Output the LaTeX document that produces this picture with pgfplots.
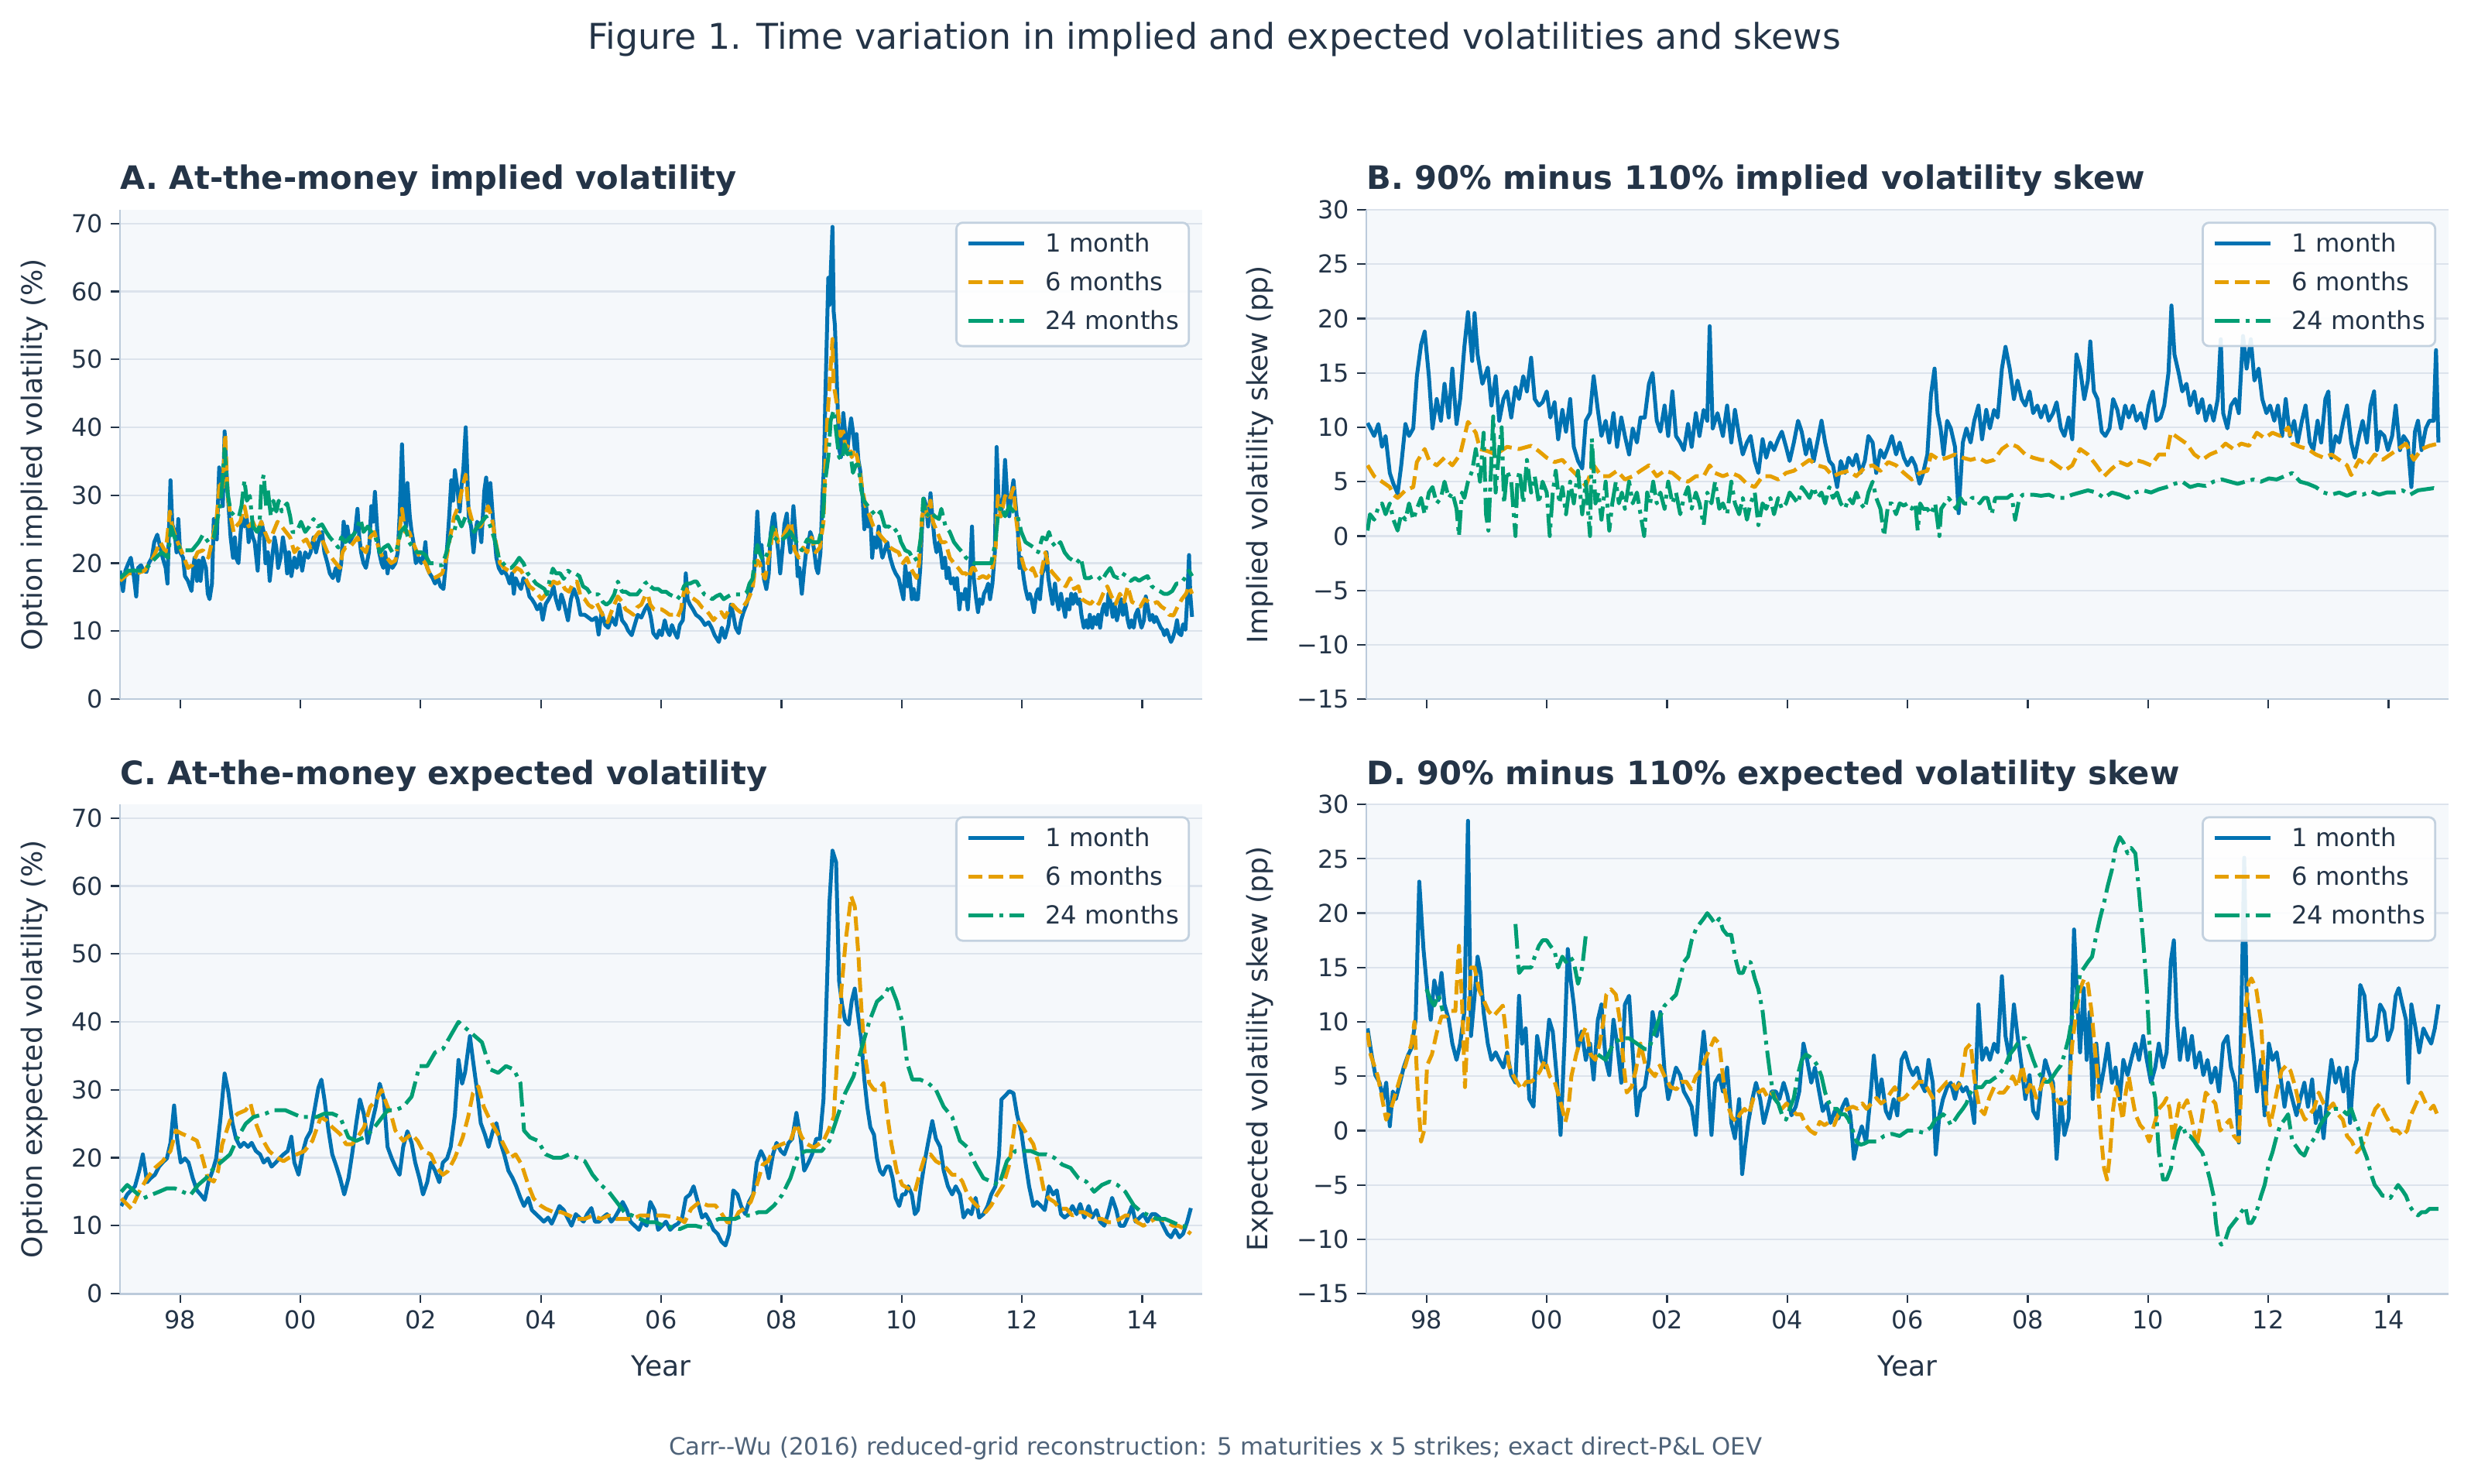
\documentclass[border=0pt]{standalone}
\usepackage{fontspec}
\setmainfont{DejaVu Sans}
\usepackage{pgfplots}
\pgfplotsset{compat=1.18}
\definecolor{c1}{HTML}{0072B2}
\definecolor{c2}{HTML}{E69F00}
\definecolor{c3}{HTML}{009E73}
\definecolor{txt}{HTML}{243447}
\definecolor{axbg}{HTML}{F5F8FB}
\definecolor{gridc}{HTML}{DCE3EC}
\definecolor{spine}{HTML}{BCCBDB}
\definecolor{legc}{HTML}{C3D1DF}
\definecolor{foot}{HTML}{4F6379}
\pgfplotsset{
  s1/.style={c1, line width=1.8pt, solid, line join=round},
  s2/.style={c2, line width=1.8pt, dash pattern=on 6.66pt off 2.88pt, line join=round},
  s3/.style={c3, line width=1.8pt, dash pattern=on 11.5pt off 2.88pt on 1.8pt off 2.88pt, line join=round},
  panel/.style={
    width=503.3pt, height=227.5pt, scale only axis,
    xmin=1997, xmax=2015,
    xtick={1998,2000,2002,2004,2006,2008,2010,2012,2014},
    axis background/.style={fill=axbg},
    axis x line*=bottom, axis y line*=left,
    axis line style={-, draw=spine, line width=1pt},
    tick align=outside, major tick length=4.3pt,
    tick style={draw=txt, line width=0.8pt},
    ymajorgrids, grid style={draw=gridc, line width=0.8pt},
    xticklabel style={font=\fontsize{11.5}{13}\selectfont, text=txt},
    yticklabel style={font=\fontsize{11.5}{13}\selectfont, text=txt},
    every axis title/.style={at={(axis description cs:0,1)}, anchor=base west, inner sep=0pt, yshift=9.4pt, font=\fontsize{15}{18}\selectfont\bfseries, text=txt},
    every axis x label/.style={at={(axis description cs:0.5,0)}, anchor=base, yshift=-38.2pt, font=\fontsize{13}{15}\selectfont, text=txt},
    unbounded coords=jump,
    legend image code/.code={\draw[##1] (0pt,1.2pt) -- (26pt,1.2pt);},
    legend cell align=left,
    legend style={at={(axis description cs:0.9886,0.976)}, anchor=north east,
      draw=legc, line width=1pt, rounded corners=3pt, fill=white, fill opacity=0.9, text opacity=1,
      inner xsep=4.6pt, inner ysep=5.2pt, row sep=7pt,
      font=\fontsize{11.6}{13}\selectfont, text=txt,
      nodes={inner sep=0pt, text height=8.5pt, text depth=2.5pt},
      /tikz/every odd column/.append style={column sep=9pt}},
  },
  ylab/.style={every axis y label/.style={at={(axis description cs:#1,0.5)}, rotate=90, anchor=center, font=\fontsize{13}{15}\selectfont, text=txt}},
  volax/.style={ymin=0, ymax=72, ytick={0,10,20,30,40,50,60,70}, yticklabels={0,10,20,30,40,50,60,70}},
  skewax/.style={ymin=-15, ymax=30, ytick={-15,-10,-5,0,5,10,15,20,25,30},
     yticklabels={−15,−10,−5,0,5,10,15,20,25,30}},
}
\begin{document}
\begin{tikzpicture}
\useasboundingbox (0,0) rectangle (1149.1pt,690.1pt);
\node[anchor=base, font=\fontsize{16.5}{19}\selectfont, text=txt] at (564.8pt,667.4pt) {Figure 1. Time variation in implied and expected volatilities and skews};
\node[anchor=base, font=\fontsize{11.1}{13}\selectfont, text=foot] at (565.3pt,13.5pt) {Carr-{}-Wu (2016) reduced-grid reconstruction: 5 maturities x 5 strikes; exact direct-P\&L OEV};

% ---------------- Panel A ----------------
\begin{axis}[panel, volax, ylab=-0.0787, at={(55.8pt,365pt)}, anchor=south west,
  xticklabels={,,,,,,,,},
  title={A. At-the-money implied volatility},
  ylabel={Option implied volatility (\%)}]
\addplot[s1] coordinates {(1997.00,18.9) (1997.05,15.9) (1997.09,18.9) (1997.14,20) (1997.18,20.8) (1997.23,18.1) (1997.27,15.1) (1997.30,19.3) (1997.35,19.7) (1997.39,18.9) (1997.44,18.7) (1997.48,20) (1997.53,20.8) (1997.57,23.1) (1997.62,24.2) (1997.67,22.3) (1997.71,20.8) (1997.76,19.3) (1997.79,17) (1997.82,26.5) (1997.84,32.2) (1997.87,25.7) (1997.91,24.6) (1997.94,21.6) (1997.97,26.5) (1998.00,21.6) (1998.05,20.8) (1998.08,18.1) (1998.13,17.4) (1998.19,15.9) (1998.22,19.3) (1998.24,20.8) (1998.28,17.4) (1998.31,20.4) (1998.34,17.4) (1998.38,20.8) (1998.43,19.3) (1998.46,15.5) (1998.49,14.7) (1998.53,17) (1998.56,26.5) (1998.61,23.5) (1998.65,34.1) (1998.68,31.8) (1998.71,28.4) (1998.74,39.4) (1998.77,33.7) (1998.80,29.2) (1998.84,23.8) (1998.88,20.8) (1998.91,23.8) (1998.93,20.8) (1998.97,20) (1999.00,23.8) (1999.03,26.9) (1999.07,25.4) (1999.11,26.5) (1999.14,23.1) (1999.17,25.4) (1999.21,23.8) (1999.24,23.1) (1999.29,18.9) (1999.32,23.8) (1999.35,26.1) (1999.39,24.6) (1999.42,20) (1999.46,21.6) (1999.49,17.4) (1999.53,20.8) (1999.57,23.8) (1999.60,22.3) (1999.63,19.3) (1999.67,20.8) (1999.71,23.8) (1999.75,21.6) (1999.78,18.5) (1999.81,21.6) (1999.85,18.1) (1999.90,20.8) (1999.94,19.3) (1999.99,21.6) (2000.03,18.9) (2000.08,21.6) (2000.13,20.8) (2000.17,21.6) (2000.22,23.8) (2000.26,21.6) (2000.31,23.5) (2000.36,24.6) (2000.40,21.6) (2000.45,20) (2000.49,18.5) (2000.54,17.8) (2000.59,19.3) (2000.63,17.4) (2000.68,20) (2000.72,26.1) (2000.75,23.8) (2000.78,25.4) (2000.82,23.1) (2000.86,23.8) (2000.91,24.6) (2000.95,28) (2000.98,23.8) (2001.01,21.6) (2001.05,20) (2001.09,19.3) (2001.14,21.6) (2001.18,28.4) (2001.21,26.1) (2001.24,30.5) (2001.28,24.6) (2001.31,21.6) (2001.35,20) (2001.38,19.3) (2001.41,21.6) (2001.45,18.5) (2001.48,20.4) (2001.53,19.3) (2001.58,20) (2001.62,21.6) (2001.65,26.9) (2001.69,37.5) (2001.73,26.9) (2001.76,25.4) (2001.78,31.8) (2001.82,26.9) (2001.85,24.6) (2001.88,23.1) (2001.92,20) (2001.97,20.8) (2002.01,20) (2002.06,21.6) (2002.08,23.1) (2002.11,19.3) (2002.15,18.5) (2002.20,17.8) (2002.24,17) (2002.29,17.8) (2002.33,16.6) (2002.38,16.2) (2002.42,20) (2002.45,23.5) (2002.48,27.6) (2002.51,32.2) (2002.54,29.2) (2002.57,33.7) (2002.61,31.1) (2002.65,27.6) (2002.68,31.4) (2002.71,33.7) (2002.75,40) (2002.78,32.2) (2002.80,26.9) (2002.84,25.4) (2002.88,21.6) (2002.91,24.6) (2002.94,26.1) (2002.98,25.4) (2003.01,23.1) (2003.06,30.7) (2003.09,32.6) (2003.12,28.4) (2003.16,31.8) (2003.20,26.9) (2003.23,23.8) (2003.26,20.8) (2003.30,19.3) (2003.35,18.5) (2003.39,18.9) (2003.44,18.1) (2003.48,17) (2003.52,18.5) (2003.55,15.5) (2003.58,17.8) (2003.62,17) (2003.67,16.2) (2003.71,17.8) (2003.76,17) (2003.81,15.1) (2003.85,14.7) (2003.90,14) (2003.94,13.2) (2003.99,14) (2004.03,11.7) (2004.08,14) (2004.13,14.7) (2004.17,15.4) (2004.21,16.6) (2004.25,14.7) (2004.30,13.2) (2004.34,15.4) (2004.38,14.3) (2004.45,11.6) (2004.50,14.7) (2004.55,16.2) (2004.61,14.7) (2004.66,12.4) (2004.73,12.4) (2004.79,12) (2004.85,11.6) (2004.92,12) (2004.96,9.5) (2005.01,12.8) (2005.07,10.9) (2005.12,10.5) (2005.18,12) (2005.24,10.9) (2005.30,13.9) (2005.35,11.6) (2005.41,10.9) (2005.45,10.1) (2005.51,9.4) (2005.56,10.9) (2005.61,12.4) (2005.67,12) (2005.73,13.2) (2005.78,13.9) (2005.83,12) (2005.87,9.7) (2005.93,9) (2005.97,10.1) (2006.01,9.4) (2006.06,11.6) (2006.10,10.1) (2006.14,9.4) (2006.18,10.9) (2006.23,9.7) (2006.27,9) (2006.31,10.9) (2006.36,11.6) (2006.39,14.7) (2006.41,18.5) (2006.44,14.7) (2006.48,13.9) (2006.53,13.2) (2006.58,12.4) (2006.64,12) (2006.68,11.6) (2006.73,10.9) (2006.79,11.3) (2006.84,10.5) (2006.89,9.4) (2006.96,8.4) (2007.01,10.5) (2007.06,9) (2007.12,10.9) (2007.16,13.9) (2007.20,12.4) (2007.24,10.5) (2007.29,9.7) (2007.33,11.6) (2007.37,12.8) (2007.42,13.9) (2007.46,15.4) (2007.50,16.2) (2007.54,17.7) (2007.57,22.3) (2007.60,27.6) (2007.63,22.3) (2007.67,22.7) (2007.71,17.7) (2007.75,16.2) (2007.79,18.5) (2007.82,24.2) (2007.86,26.8) (2007.88,27.3) (2007.92,23.8) (2007.95,21.6) (2007.98,18.5) (2008.02,22.3) (2008.05,25.7) (2008.09,27.3) (2008.12,23.8) (2008.15,21.6) (2008.18,25.4) (2008.20,28.4) (2008.24,23.8) (2008.27,18.1) (2008.30,19.3) (2008.34,15.5) (2008.38,19.3) (2008.41,21.6) (2008.44,22.3) (2008.48,24.6) (2008.51,23.8) (2008.55,21.6) (2008.58,19.3) (2008.61,18.5) (2008.65,21.6) (2008.68,29.2) (2008.71,34.5) (2008.73,44) (2008.78,62) (2008.80,58) (2008.85,69.5) (2008.87,57) (2008.89,55) (2008.94,42) (2008.96,36.8) (2008.99,35.6) (2009.03,42.1) (2009.07,38.3) (2009.10,36.8) (2009.13,39.4) (2009.16,41.3) (2009.19,39.4) (2009.22,36.8) (2009.25,39) (2009.28,35.2) (2009.31,33.7) (2009.35,29.9) (2009.38,25) (2009.41,28.4) (2009.44,25.4) (2009.48,26.9) (2009.51,20.8) (2009.54,23.8) (2009.58,22.3) (2009.62,25.4) (2009.65,22.3) (2009.68,20.8) (2009.72,21.9) (2009.76,23.1) (2009.81,20.8) (2009.86,19.3) (2009.90,18.5) (2009.95,17.8) (2009.99,16.2) (2010.03,14.7) (2010.06,19.6) (2010.10,16.6) (2010.13,18.5) (2010.17,14.7) (2010.20,16.2) (2010.23,14.7) (2010.27,14.7) (2010.31,19.3) (2010.34,25.4) (2010.37,29.5) (2010.41,28.4) (2010.44,25.4) (2010.48,30.3) (2010.51,26.9) (2010.55,23.1) (2010.58,21.6) (2010.62,23.1) (2010.65,21.6) (2010.68,19.3) (2010.72,20.8) (2010.75,17.8) (2010.78,19.3) (2010.82,17) (2010.86,17.8) (2010.89,16.2) (2010.92,17.8) (2010.96,13.2) (2010.99,15.5) (2011.03,14.7) (2011.06,16.2) (2011.10,13.2) (2011.13,17) (2011.17,25.4) (2011.20,17.8) (2011.24,14.7) (2011.27,12.8) (2011.30,14.7) (2011.34,14) (2011.37,15.5) (2011.41,16.2) (2011.44,17) (2011.47,14.7) (2011.51,17) (2011.55,21.6) (2011.58,37.1) (2011.61,29.9) (2011.65,26.9) (2011.69,29.9) (2011.72,35.2) (2011.75,30.7) (2011.79,26.9) (2011.82,29.9) (2011.86,32.2) (2011.89,29.2) (2011.93,25.4) (2011.96,19.3) (2011.99,20.8) (2012.03,17.8) (2012.06,16.2) (2012.10,14.7) (2012.13,15.5) (2012.16,14.7) (2012.20,12.8) (2012.24,15.5) (2012.27,16.2) (2012.30,14.7) (2012.34,18.5) (2012.38,19.3) (2012.41,21.6) (2012.44,17.8) (2012.48,15.5) (2012.51,14) (2012.55,17) (2012.58,14.7) (2012.61,13.2) (2012.65,15.5) (2012.68,14) (2012.72,12.1) (2012.75,14.7) (2012.79,13.2) (2012.82,15.5) (2012.85,14) (2012.89,15.5) (2012.93,14) (2012.96,14.7) (2012.99,12.4) (2013.03,10.5) (2013.07,11.6) (2013.10,10.5) (2013.13,12.4) (2013.17,10.5) (2013.20,12.1) (2013.24,11) (2013.27,12.4) (2013.30,10.5) (2013.34,13.2) (2013.37,14) (2013.41,12.4) (2013.44,15.5) (2013.48,14) (2013.51,12.1) (2013.54,14) (2013.58,11.6) (2013.62,13.2) (2013.65,14.7) (2013.68,12.4) (2013.72,14) (2013.76,11.6) (2013.79,10.5) (2013.82,11.6) (2013.86,10.5) (2013.89,12.4) (2013.93,13.2) (2013.96,11.6) (2013.99,10.5) (2014.03,11.6) (2014.06,15.1) (2014.10,13.2) (2014.13,11.6) (2014.17,12.4) (2014.20,11.3) (2014.23,12.1) (2014.27,11.3) (2014.31,10.5) (2014.34,10.2) (2014.37,9.4) (2014.41,10.2) (2014.44,9.4) (2014.48,8.4) (2014.51,9) (2014.55,10.2) (2014.58,11.6) (2014.61,9.7) (2014.65,9.4) (2014.68,11) (2014.72,10.2) (2014.75,14.7) (2014.78,21.2) (2014.80,15.5) (2014.83,12.1)};
\addlegendentry{1 month}
\addplot[s2] coordinates {(1997.00,17.4) (1997.14,18.5) (1997.28,18.5) (1997.41,18.9) (1997.55,20.8) (1997.67,23.1) (1997.76,21.6) (1997.83,27.6) (1997.87,25.4) (1997.94,23.5) (1998.03,21.6) (1998.13,19.3) (1998.20,19.7) (1998.29,21.6) (1998.38,21.9) (1998.47,20.8) (1998.54,23.5) (1998.61,26.9) (1998.66,32.2) (1998.71,31.1) (1998.75,39) (1998.79,29.9) (1998.84,26.9) (1998.89,24.6) (1998.93,25.4) (1999.00,26.1) (1999.07,28.4) (1999.14,25.4) (1999.21,26.1) (1999.28,24.6) (1999.35,26.1) (1999.41,24.6) (1999.48,23.1) (1999.55,24.6) (1999.62,26.1) (1999.69,25.4) (1999.76,24.6) (1999.83,23.8) (1999.90,21.6) (1999.97,22.3) (2000.03,23.1) (2000.10,23.5) (2000.17,22.3) (2000.24,23.8) (2000.31,24.6) (2000.38,23.1) (2000.45,21.6) (2000.52,20.8) (2000.59,20) (2000.66,19.3) (2000.70,21.6) (2000.75,22.3) (2000.82,22.3) (2000.89,23.1) (2000.95,23.8) (2001.02,22.3) (2001.09,21.6) (2001.16,23.8) (2001.23,24.6) (2001.30,22.3) (2001.37,20.8) (2001.44,20.8) (2001.51,20) (2001.58,20.4) (2001.64,23.8) (2001.69,28) (2001.74,24.6) (2001.81,24.6) (2001.87,23.1) (2001.94,21.6) (2002.01,20.8) (2002.08,20) (2002.15,18.5) (2002.22,17.8) (2002.29,18.1) (2002.36,18.5) (2002.43,20.8) (2002.49,23.8) (2002.56,26.9) (2002.63,28.4) (2002.70,31.4) (2002.75,33) (2002.79,28.4) (2002.86,26.1) (2002.93,25.4) (2003.00,25.4) (2003.07,26.9) (2003.12,28.4) (2003.18,26.9) (2003.25,23.1) (2003.32,20) (2003.39,19.3) (2003.46,18.9) (2003.53,18.5) (2003.60,19.3) (2003.67,18.9) (2003.74,17.8) (2003.81,16.6) (2003.87,16.2) (2003.94,15.5) (2004.01,14.7) (2004.08,15.4) (2004.15,16.6) (2004.21,17.3) (2004.27,17) (2004.34,17.3) (2004.40,16.2) (2004.47,15.8) (2004.53,17) (2004.60,17.3) (2004.66,15.1) (2004.73,14.7) (2004.79,13.9) (2004.85,13.5) (2004.92,14.3) (2004.98,13.2) (2005.05,12) (2005.11,11.3) (2005.17,12.8) (2005.22,13.9) (2005.28,15.1) (2005.35,14.3) (2005.41,13.2) (2005.48,12.8) (2005.54,12.4) (2005.60,13.5) (2005.67,13.9) (2005.73,15.1) (2005.78,15.4) (2005.82,13.9) (2005.88,13.2) (2005.95,13.2) (2006.01,13.2) (2006.08,12.8) (2006.14,12.4) (2006.21,12.4) (2006.27,12) (2006.33,13.2) (2006.38,15.8) (2006.42,16.2) (2006.48,15.1) (2006.55,14.7) (2006.61,14.3) (2006.68,13.5) (2006.74,13.2) (2006.81,12.4) (2006.87,11.6) (2006.94,12.4) (2007.00,12.8) (2007.06,12) (2007.13,13.2) (2007.19,13.9) (2007.26,13.2) (2007.32,12.8) (2007.39,13.9) (2007.45,14.7) (2007.52,16.2) (2007.56,19.2) (2007.60,20.4) (2007.64,20) (2007.69,18.5) (2007.73,17.7) (2007.77,20) (2007.82,22.3) (2007.86,24.9) (2007.88,25.4) (2007.95,23.1) (2008.02,23.8) (2008.09,25) (2008.16,26.1) (2008.22,21.9) (2008.29,20.8) (2008.36,22.3) (2008.43,21.6) (2008.50,23.8) (2008.57,21.6) (2008.64,22.3) (2008.70,26.1) (2008.73,34.5) (2008.76,40.6) (2008.85,53) (2008.87,46.3) (2008.94,42.5) (2008.98,38.7) (2009.03,39.4) (2009.07,36.8) (2009.12,37.5) (2009.17,35.6) (2009.21,36.8) (2009.26,35.6) (2009.30,33.7) (2009.35,30.7) (2009.40,28.4) (2009.47,26.9) (2009.53,25.4) (2009.60,24.6) (2009.67,23.8) (2009.74,23.1) (2009.81,22.3) (2009.88,21.9) (2009.95,21.6) (2010.02,20) (2010.09,20.8) (2010.15,19.3) (2010.20,18.5) (2010.25,17.8) (2010.29,20) (2010.34,26.9) (2010.39,28.4) (2010.43,26.9) (2010.48,29.2) (2010.52,26.1) (2010.59,24.6) (2010.66,23.1) (2010.73,23.1) (2010.80,20.8) (2010.87,20) (2010.94,19.3) (2011.01,18.5) (2011.07,18.5) (2011.12,17.8) (2011.17,19.3) (2011.21,19.3) (2011.28,17.8) (2011.35,18.1) (2011.42,17.8) (2011.49,18.5) (2011.56,21.6) (2011.60,29.9) (2011.65,26.9) (2011.72,29.9) (2011.79,29.2) (2011.86,31.1) (2011.90,26.9) (2011.97,21.6) (2012.04,19.3) (2012.11,18.5) (2012.18,19.3) (2012.25,17.8) (2012.32,18.5) (2012.39,21.6) (2012.45,19.3) (2012.52,18.5) (2012.59,17.8) (2012.66,17) (2012.73,16.6) (2012.80,17.8) (2012.87,16.2) (2012.94,16.6) (2013.00,14.7) (2013.07,14.3) (2013.14,14) (2013.21,14.7) (2013.28,14) (2013.35,15.5) (2013.42,16.6) (2013.49,15.1) (2013.56,14) (2013.63,15.5) (2013.70,14.3) (2013.76,16.6) (2013.83,14.3) (2013.90,14) (2013.97,13.6) (2014.04,14.7) (2014.11,14.3) (2014.18,14) (2014.25,14.3) (2014.32,13.6) (2014.39,13.2) (2014.45,12.4) (2014.52,12.3) (2014.59,13.6) (2014.66,14.7) (2014.73,15.5) (2014.78,16.6) (2014.83,15.5)};
\addlegendentry{6 months}
\addplot[s3] coordinates {(1997.00,17.8) (1997.14,18.9) (1997.28,18.9) (1997.41,18.9) (1997.55,20.4) (1997.69,21.6) (1997.80,20.8) (1997.85,25.4) (1997.92,23.5) (1998.01,21.9) (1998.10,21.9) (1998.20,21.9) (1998.31,23.1) (1998.38,24.2) (1998.47,23.1) (1998.56,23.8) (1998.63,26.9) (1998.68,29.2) (1998.74,36.8) (1998.79,30.3) (1998.84,27.6) (1998.91,26.9) (1998.98,26.9) (1999.02,28.4) (1999.07,32.2) (1999.11,29.2) (1999.16,29.9) (1999.21,25.4) (1999.28,24.6) (1999.32,25.4) (1999.35,31.4) (1999.39,33) (1999.43,28.4) (1999.46,30.7) (1999.51,26.9) (1999.55,29.2) (1999.60,27.6) (1999.64,29.2) (1999.69,27.6) (1999.74,28.4) (1999.78,28.8) (1999.83,26.9) (1999.87,24.6) (1999.94,24.6) (2000.01,26.1) (2000.08,24.6) (2000.15,25.4) (2000.22,26.5) (2000.29,25.4) (2000.36,25.7) (2000.43,24.6) (2000.49,23.8) (2000.56,23.1) (2000.63,22.3) (2000.68,23.8) (2000.75,23.1) (2000.82,23.8) (2000.89,24.2) (2000.95,25.4) (2001.00,26.5) (2001.05,24.6) (2001.12,25.4) (2001.18,24.6) (2001.25,23.8) (2001.32,21.6) (2001.39,22.3) (2001.46,22.7) (2001.53,21.6) (2001.60,21.9) (2001.67,24.6) (2001.74,25.4) (2001.81,23.1) (2001.87,22.3) (2001.94,21.6) (2002.01,21.6) (2002.08,21.2) (2002.15,20) (2002.22,20) (2002.29,19.7) (2002.36,19.7) (2002.43,21.6) (2002.49,23.8) (2002.56,24.6) (2002.61,26.9) (2002.68,25.4) (2002.75,26.9) (2002.82,26.1) (2002.89,24.6) (2002.95,25.4) (2003.02,26.1) (2003.09,26.9) (2003.16,25.4) (2003.23,23.5) (2003.30,20.8) (2003.37,20) (2003.44,19.3) (2003.51,19.3) (2003.58,20) (2003.64,20.8) (2003.71,20) (2003.78,18.5) (2003.85,17.8) (2003.92,17) (2003.99,16.6) (2004.06,16.2) (2004.10,15.4) (2004.15,17.7) (2004.20,19.2) (2004.25,18.5) (2004.32,18.5) (2004.38,17.7) (2004.45,18.9) (2004.51,18.5) (2004.57,18.5) (2004.64,18.1) (2004.70,16.6) (2004.77,16.2) (2004.83,15.4) (2004.90,15.4) (2004.96,15.4) (2005.03,14.3) (2005.09,13.9) (2005.15,14.3) (2005.22,15.4) (2005.28,17.3) (2005.35,15.8) (2005.41,15.8) (2005.48,15.4) (2005.54,15.4) (2005.60,15.4) (2005.67,16.2) (2005.73,17) (2005.78,17.3) (2005.82,16.6) (2005.88,16.2) (2005.95,16.2) (2006.01,15.8) (2006.08,15.8) (2006.14,15.4) (2006.21,15.1) (2006.27,14.7) (2006.33,15.4) (2006.38,16.6) (2006.42,17) (2006.48,17) (2006.55,17.3) (2006.59,17.3) (2006.66,16.2) (2006.72,15.4) (2006.79,15.1) (2006.85,14.7) (2006.91,15.1) (2006.98,15.4) (2007.04,14.7) (2007.11,15.1) (2007.17,15.4) (2007.24,15.4) (2007.30,15.4) (2007.37,15.4) (2007.43,15.8) (2007.47,17) (2007.52,17.7) (2007.56,20.8) (2007.60,22.7) (2007.64,21.5) (2007.69,20.4) (2007.73,20.8) (2007.77,21.5) (2007.82,23.8) (2007.86,25.3) (2007.88,23.8) (2007.97,23.1) (2008.06,23.8) (2008.15,24.6) (2008.25,23.1) (2008.34,21.9) (2008.43,23.5) (2008.52,23.1) (2008.62,23.1) (2008.68,25.4) (2008.73,32.2) (2008.78,35.6) (2008.82,41) (2008.87,42.5) (2008.91,39.4) (2008.96,35.6) (2009.01,35.2) (2009.05,37.5) (2009.10,36) (2009.14,36.8) (2009.19,33.3) (2009.24,34.5) (2009.28,34.5) (2009.33,30.7) (2009.37,29.2) (2009.44,28.4) (2009.51,27.6) (2009.58,26.9) (2009.65,27.6) (2009.72,25.4) (2009.79,25.4) (2009.86,24.6) (2009.93,25) (2009.99,23.1) (2010.06,21.9) (2010.13,21.6) (2010.20,20.4) (2010.27,20.8) (2010.32,23.8) (2010.36,29.5) (2010.41,26.9) (2010.48,27.6) (2010.55,26.9) (2010.62,26.5) (2010.66,28) (2010.73,25.4) (2010.80,24.6) (2010.87,23.1) (2010.94,22.3) (2011.01,21.6) (2011.07,20.8) (2011.14,20.4) (2011.21,20) (2011.28,20) (2011.35,20) (2011.42,20) (2011.49,20) (2011.56,23.1) (2011.60,26.9) (2011.65,28.4) (2011.72,26.9) (2011.79,28.4) (2011.86,27.6) (2011.93,26.9) (2011.99,24.6) (2012.06,23.1) (2012.13,22.7) (2012.20,22.3) (2012.27,21.6) (2012.34,23.8) (2012.41,23.5) (2012.45,24.6) (2012.50,23.1) (2012.57,22.3) (2012.64,23.1) (2012.71,21.6) (2012.78,20.8) (2012.85,20.4) (2012.91,20) (2012.98,20.8) (2013.05,17.8) (2013.12,17.8) (2013.19,18.1) (2013.26,18.1) (2013.33,17.4) (2013.40,18.5) (2013.47,19.3) (2013.53,18.1) (2013.60,17.8) (2013.67,18.5) (2013.74,18.1) (2013.81,17.4) (2013.88,17.8) (2013.95,17.4) (2014.02,17.8) (2014.09,18.1) (2014.16,16.6) (2014.22,16.2) (2014.29,15.9) (2014.36,15.5) (2014.43,15.5) (2014.50,15.9) (2014.57,17) (2014.64,17) (2014.71,17.8) (2014.78,18.9) (2014.83,18.1)};
\addlegendentry{24 months}
\end{axis}

% ---------------- Panel B ----------------
\begin{axis}[panel, skewax, ylab=-0.098, at={(635.4pt,365pt)}, anchor=south west,
  xticklabels={,,,,,,,,},
  title={B. 90\% minus 110\% implied volatility skew},
  ylabel={Implied volatility skew (pp)}]
\addplot[s1] coordinates {(1997.02,10.4) (1997.13,9.2) (1997.20,10.3) (1997.26,8.2) (1997.32,9.2) (1997.39,5.8) (1997.45,4.8) (1997.52,3.9) (1997.58,6.5) (1997.65,10.3) (1997.71,9.2) (1997.78,9.9) (1997.84,14.7) (1997.91,17.6) (1997.97,18.8) (1998.04,14.7) (1998.10,9.9) (1998.17,12.6) (1998.24,10.6) (1998.30,14.0) (1998.37,10.9) (1998.43,15.4) (1998.50,10.3) (1998.56,12.6) (1998.63,17.4) (1998.69,20.6) (1998.76,16.1) (1998.80,20.5) (1998.85,16.7) (1998.93,14.0) (1999.02,15.5) (1999.08,12.0) (1999.15,14.7) (1999.21,10.6) (1999.28,12.6) (1999.34,13.3) (1999.41,10.9) (1999.48,13.7) (1999.54,12.6) (1999.61,14.7) (1999.67,13.3) (1999.74,16.4) (1999.80,12.6) (1999.87,12.0) (1999.93,12.3) (2000.00,13.3) (2000.06,10.9) (2000.13,12.3) (2000.19,8.9) (2000.26,11.6) (2000.32,9.6) (2000.39,12.6) (2000.45,8.2) (2000.52,6.9) (2000.59,6.2) (2000.65,10.6) (2000.72,11.3) (2000.78,14.7) (2000.85,11.6) (2000.91,9.2) (2000.98,10.6) (2001.04,8.6) (2001.11,11.3) (2001.17,8.2) (2001.24,10.9) (2001.30,9.2) (2001.37,7.5) (2001.43,9.9) (2001.50,8.6) (2001.56,10.9) (2001.63,10.9) (2001.70,14.0) (2001.76,15.0) (2001.83,10.6) (2001.89,9.6) (2001.96,12.0) (2002.02,9.2) (2002.09,13.3) (2002.15,9.2) (2002.22,8.6) (2002.28,7.9) (2002.35,10.3) (2002.41,8.2) (2002.48,11.3) (2002.54,9.2) (2002.61,11.6) (2002.67,10.6) (2002.71,19.3) (2002.76,9.9) (2002.84,11.3) (2002.93,9.2) (2003.00,12.0) (2003.07,8.6) (2003.13,11.6) (2003.20,9.2) (2003.26,7.5) (2003.33,8.6) (2003.39,9.2) (2003.46,6.9) (2003.52,5.8) (2003.59,8.9) (2003.65,7.2) (2003.72,8.6) (2003.78,7.9) (2003.85,8.9) (2003.91,9.6) (2003.98,8.2) (2004.04,6.9) (2004.11,8.6) (2004.18,10.6) (2004.24,9.6) (2004.31,7.5) (2004.37,8.9) (2004.44,6.9) (2004.50,8.6) (2004.57,10.6) (2004.63,8.6) (2004.70,6.9) (2004.76,6.5) (2004.83,4.5) (2004.89,6.9) (2004.96,5.8) (2005.02,7.2) (2005.09,6.5) (2005.15,7.5) (2005.22,5.8) (2005.29,6.9) (2005.35,9.2) (2005.42,8.6) (2005.48,5.8) (2005.55,7.9) (2005.61,7.2) (2005.68,8.2) (2005.74,9.2) (2005.81,7.5) (2005.87,8.6) (2005.94,7.2) (2006.00,6.5) (2006.07,7.2) (2006.13,6.5) (2006.20,4.8) (2006.26,5.8) (2006.33,7.5) (2006.39,13.0) (2006.45,15.4) (2006.50,11.3) (2006.55,9.9) (2006.60,7.5) (2006.66,10.6) (2006.72,9.9) (2006.79,8.2) (2006.85,2.1) (2006.92,8.6) (2006.98,9.9) (2007.05,8.6) (2007.11,10.6) (2007.18,12.0) (2007.24,8.9) (2007.31,11.6) (2007.37,9.9) (2007.44,11.6) (2007.50,10.9) (2007.57,15.4) (2007.63,17.4) (2007.70,15.4) (2007.77,12.6) (2007.83,14.3) (2007.90,12.6) (2007.96,12.0) (2008.03,13.3) (2008.09,11.3) (2008.16,12.0) (2008.22,10.9) (2008.29,12.0) (2008.35,10.6) (2008.42,11.3) (2008.48,12.3) (2008.55,9.9) (2008.61,9.2) (2008.68,10.9) (2008.74,8.9) (2008.81,16.7) (2008.87,15.4) (2008.94,12.6) (2009.00,14.3) (2009.04,17.9) (2009.10,13.3) (2009.16,12.6) (2009.23,9.6) (2009.29,9.2) (2009.36,9.9) (2009.42,12.6) (2009.49,11.6) (2009.55,9.9) (2009.62,12.0) (2009.68,10.9) (2009.75,12.0) (2009.81,10.6) (2009.88,11.3) (2009.95,9.9) (2010.01,12.0) (2010.08,13.3) (2010.14,10.6) (2010.21,10.9) (2010.27,12.0) (2010.34,15.0) (2010.39,21.2) (2010.44,16.7) (2010.51,15.0) (2010.57,13.3) (2010.64,14.0) (2010.70,12.0) (2010.77,13.3) (2010.83,11.3) (2010.90,12.6) (2010.96,10.6) (2011.03,12.0) (2011.09,10.6) (2011.16,12.6) (2011.21,18.1) (2011.25,11.3) (2011.32,9.9) (2011.38,12.0) (2011.45,12.6) (2011.51,11.3) (2011.58,18.4) (2011.64,15.4) (2011.71,18.1) (2011.77,14.3) (2011.84,15.4) (2011.90,12.6) (2011.97,11.3) (2012.03,12.0) (2012.10,10.6) (2012.16,12.0) (2012.23,9.2) (2012.29,12.6) (2012.36,9.2) (2012.43,10.6) (2012.49,8.6) (2012.56,10.6) (2012.62,12.0) (2012.69,8.6) (2012.75,7.9) (2012.82,10.6) (2012.88,8.6) (2012.95,12.6) (2013.00,13.3) (2013.05,7.2) (2013.12,9.2) (2013.18,8.6) (2013.25,10.6) (2013.31,12.0) (2013.38,8.6) (2013.44,7.2) (2013.51,9.2) (2013.57,10.6) (2013.64,8.6) (2013.70,12.0) (2013.76,13.3) (2013.81,7.9) (2013.86,9.6) (2013.93,9.2) (2013.99,7.9) (2014.06,9.2) (2014.12,12.0) (2014.19,7.9) (2014.25,9.2) (2014.32,8.6) (2014.38,4.5) (2014.44,9.6) (2014.49,10.6) (2014.55,7.9) (2014.62,9.9) (2014.68,10.6) (2014.75,10.6) (2014.79,17.1) (2014.83,8.6)};
\addlegendentry{1 month}
\addplot[s2] coordinates {(1997.02,6.5) (1997.13,5.5) (1997.26,5) (1997.39,4.5) (1997.45,3.8) (1997.52,3.5) (1997.65,4.2) (1997.78,4.5) (1997.84,6.8) (1997.97,8.0) (1998.04,7.0) (1998.17,6.5) (1998.30,7.2) (1998.43,6.5) (1998.56,7.5) (1998.69,10.5) (1998.82,9.5) (1998.89,8.0) (1999.02,7.8) (1999.15,7.5) (1999.34,8.2) (1999.54,8.0) (1999.74,8.3) (1999.87,7.8) (2000.00,7.2) (2000.13,6.8) (2000.26,7.0) (2000.39,6.2) (2000.52,5.5) (2000.65,4.6) (2000.78,6.5) (2000.91,5.5) (2001.04,5.5) (2001.17,6.0) (2001.30,5.2) (2001.43,5.5) (2001.56,6.0) (2001.70,6.5) (2001.83,5.5) (2001.96,6.0) (2002.09,5.8) (2002.22,5.2) (2002.35,5.0) (2002.48,5.5) (2002.61,5.5) (2002.71,6.5) (2002.80,5.8) (2002.93,5.5) (2003.07,5.8) (2003.20,5.5) (2003.33,4.8) (2003.46,4.5) (2003.59,5.5) (2003.72,5.5) (2003.85,5.2) (2003.98,5.8) (2004.11,6.0) (2004.24,6.5) (2004.37,7.0) (2004.50,6.5) (2004.63,6.3) (2004.76,5.5) (2004.89,5.8) (2005.02,6.0) (2005.15,5.5) (2005.29,6.3) (2005.42,6.5) (2005.55,6.0) (2005.68,6.8) (2005.81,6.5) (2005.94,5.8) (2006.07,5.2) (2006.20,5.8) (2006.33,6.0) (2006.39,7.5) (2006.53,7.0) (2006.66,7.2) (2006.79,7.5) (2006.92,7.2) (2007.05,7.0) (2007.18,7.2) (2007.31,6.8) (2007.44,7.0) (2007.57,8.0) (2007.70,8.5) (2007.83,8.2) (2007.96,7.5) (2008.09,7.2) (2008.22,7.0) (2008.35,7.0) (2008.48,6.5) (2008.61,6.0) (2008.74,6.5) (2008.87,8.0) (2009.00,7.5) (2009.14,6.5) (2009.27,5.5) (2009.40,6.2) (2009.53,6.8) (2009.66,6.5) (2009.79,7.0) (2009.92,6.8) (2010.05,6.5) (2010.18,7.5) (2010.31,7.5) (2010.38,9.5) (2010.51,9.0) (2010.64,8.5) (2010.77,7.5) (2010.90,7.0) (2011.03,7.5) (2011.16,7.8) (2011.29,8.5) (2011.42,8.0) (2011.55,8.5) (2011.68,8.3) (2011.81,9.5) (2011.94,9.0) (2012.07,9.5) (2012.20,9.2) (2012.33,10.0) (2012.40,8.5) (2012.53,8.2) (2012.66,8.0) (2012.79,7.5) (2012.92,7.2) (2013.05,7.5) (2013.18,7.0) (2013.31,6.5) (2013.38,5.6) (2013.51,7.0) (2013.64,6.5) (2013.77,7.5) (2013.90,7.0) (2014.03,7.5) (2014.16,8.0) (2014.29,8.5) (2014.42,7.0) (2014.55,8.0) (2014.68,8.3) (2014.83,8.5)};
\addlegendentry{6 months}
\addplot[s3] coordinates {(1997.02,0.5) (1997.06,2) (1997.13,1.5) (1997.19,2.5) (1997.26,3) (1997.32,2) (1997.39,3) (1997.45,1.5) (1997.52,0.5) (1997.58,2) (1997.65,1.5) (1997.71,3) (1997.78,1.5) (1997.84,2.5) (1997.91,3.5) (1997.97,2) (1998.04,4) (1998.10,4.5) (1998.17,3) (1998.24,3.5) (1998.30,5) (1998.37,3.5) (1998.43,4) (1998.50,2.5) (1998.54,0) (1998.59,4) (1998.63,3.5) (1998.69,5) (1998.76,6) (1998.82,8) (1998.89,5) (1998.95,9.5) (1998.99,2) (1999.03,0.5) (1999.08,7) (1999.11,11) (1999.15,4) (1999.21,8) (1999.25,10) (1999.29,3) (1999.34,6) (1999.41,5) (1999.48,0) (1999.51,5) (1999.55,6) (1999.61,3) (1999.67,7) (1999.74,4) (1999.80,5.5) (1999.87,3) (1999.93,5) (2000.00,4) (2000.05,0) (2000.10,4) (2000.15,6) (2000.21,3) (2000.26,4.5) (2000.32,2) (2000.39,5) (2000.45,3) (2000.52,6) (2000.59,2) (2000.65,5) (2000.72,0) (2000.75,9) (2000.81,3) (2000.86,4) (2000.91,1.5) (2000.98,5) (2001.04,0.5) (2001.09,3) (2001.15,5) (2001.20,3) (2001.25,4) (2001.30,2.5) (2001.37,5) (2001.43,3) (2001.50,4) (2001.56,2) (2001.62,0) (2001.67,4) (2001.72,3) (2001.77,5) (2001.83,3) (2001.89,4) (2001.96,2.5) (2002.02,5) (2002.09,3) (2002.15,4) (2002.22,2) (2002.28,3.5) (2002.35,4.5) (2002.41,2.5) (2002.48,4) (2002.54,3) (2002.61,1) (2002.67,4) (2002.74,3) (2002.80,5) (2002.87,2.5) (2002.93,3) (2003.00,2) (2003.07,5) (2003.13,3) (2003.20,2) (2003.26,3.5) (2003.33,1.5) (2003.39,3) (2003.46,4) (2003.52,1) (2003.59,3) (2003.65,2.5) (2003.72,3.5) (2003.78,2) (2003.85,3.5) (2003.91,2.5) (2003.98,3) (2004.04,4) (2004.11,3.5) (2004.18,3) (2004.24,4.5) (2004.31,4) (2004.37,3.5) (2004.44,4.5) (2004.50,3.5) (2004.57,4) (2004.63,3) (2004.70,4.5) (2004.76,3.5) (2004.83,4) (2004.89,3) (2004.96,2.5) (2005.02,3.5) (2005.09,3) (2005.15,4) (2005.22,3) (2005.29,2.5) (2005.35,4) (2005.42,5) (2005.48,3.5) (2005.55,2.5) (2005.61,0) (2005.68,3) (2005.74,3) (2005.81,2) (2005.87,3) (2005.94,2.8) (2006.00,3) (2006.07,2.5) (2006.13,3) (2006.17,0.5) (2006.21,3) (2006.26,2.5) (2006.33,2.5) (2006.39,2) (2006.46,3) (2006.53,0) (2006.56,2.5) (2006.62,3) (2006.68,3.5) (2006.75,3) (2006.81,2.5) (2006.88,3.5) (2006.94,3) (2007.01,3) (2007.07,3.5) (2007.14,3.5) (2007.20,3) (2007.27,3.5) (2007.33,3.5) (2007.40,2) (2007.46,3.5) (2007.53,3.5) (2007.59,3.5) (2007.66,3.5) (2007.73,3.8) (2007.79,1.5) (2007.86,3.5) (2007.92,3.8) (2007.99,3.8) (2008.09,3.8) (2008.22,3.7) (2008.35,3.8) (2008.48,3.5) (2008.61,3.5) (2008.74,3.8) (2008.87,4) (2009.00,4.2) (2009.14,4) (2009.27,3.5) (2009.40,4) (2009.53,3.8) (2009.66,3.5) (2009.79,4) (2009.92,4.2) (2010.05,4) (2010.18,4.3) (2010.31,4.5) (2010.44,4.8) (2010.57,5) (2010.70,4.5) (2010.83,4.7) (2010.96,4.6) (2011.09,5) (2011.23,5.2) (2011.36,5) (2011.49,4.8) (2011.62,5) (2011.75,5.2) (2011.88,5) (2012.01,5.3) (2012.14,5.2) (2012.27,5.5) (2012.40,5.8) (2012.53,5) (2012.66,4.8) (2012.79,4.5) (2012.92,4) (2013.05,3.8) (2013.18,4) (2013.31,3.7) (2013.44,4) (2013.57,3.8) (2013.71,4.1) (2013.84,3.8) (2013.97,4) (2014.10,4) (2014.23,4.2) (2014.36,3.8) (2014.49,4.2) (2014.62,4.3) (2014.75,4.4) (2014.83,4.3)};
\addlegendentry{24 months}
\end{axis}

% ---------------- Panel C ----------------
\begin{axis}[panel, volax, ylab=-0.0787, at={(55.8pt,88.5pt)}, anchor=south west,
  xticklabels={98,00,02,04,06,08,10,12,14},
  title={C. At-the-money expected volatility},
  xlabel={Year},
  ylabel={Option expected volatility (\%)}]
\addplot[s1] coordinates {(1997.02,12.9) (1997.12,14.6) (1997.25,15.8) (1997.32,18.1) (1997.38,20.5) (1997.45,16.4) (1997.51,17.0) (1997.58,17.5) (1997.65,18.7) (1997.71,19.3) (1997.78,19.9) (1997.84,22.2) (1997.90,27.7) (1997.95,22.8) (1998.01,19.3) (1998.08,19.9) (1998.14,19.3) (1998.21,17.0) (1998.28,15.2) (1998.34,14.6) (1998.41,13.8) (1998.47,16.4) (1998.54,18.1) (1998.60,19.9) (1998.67,25.7) (1998.74,32.4) (1998.80,29.8) (1998.87,25.1) (1998.93,22.8) (1999.00,21.6) (1999.06,22.2) (1999.13,21.6) (1999.19,22.2) (1999.26,21.0) (1999.33,20.5) (1999.39,19.3) (1999.46,19.9) (1999.52,18.7) (1999.59,19.3) (1999.65,19.9) (1999.72,20.5) (1999.79,21.0) (1999.85,23.1) (1999.90,19.3) (1999.97,17.5) (2000.03,20.5) (2000.10,22.8) (2000.17,23.9) (2000.23,26.8) (2000.30,30.3) (2000.35,31.5) (2000.40,28.6) (2000.47,23.9) (2000.53,20.5) (2000.60,18.7) (2000.66,17.0) (2000.73,14.6) (2000.80,17.0) (2000.86,20.5) (2000.93,25.1) (2000.99,28.6) (2001.06,26.3) (2001.12,22.2) (2001.19,25.1) (2001.25,27.4) (2001.32,30.9) (2001.39,28.6) (2001.45,21.6) (2001.52,19.9) (2001.58,18.7) (2001.65,17.5) (2001.71,21.6) (2001.78,23.9) (2001.85,22.2) (2001.91,19.3) (2001.98,17.0) (2002.04,14.6) (2002.11,16.4) (2002.17,19.3) (2002.24,18.1) (2002.31,16.4) (2002.37,19.3) (2002.44,19.9) (2002.50,21.6) (2002.57,26.3) (2002.63,34.4) (2002.69,30.9) (2002.74,32.6) (2002.82,37.9) (2002.87,34.4) (2002.94,29.8) (2003.00,25.1) (2003.07,23.4) (2003.13,21.6) (2003.20,23.9) (2003.26,25.1) (2003.33,22.2) (2003.39,20.5) (2003.46,18.1) (2003.53,17.0) (2003.59,15.8) (2003.66,14.1) (2003.72,12.9) (2003.79,14.1) (2003.85,12.3) (2003.92,11.7) (2003.98,11.2) (2004.05,10.6) (2004.12,11.2) (2004.18,10.3) (2004.25,11.7) (2004.31,12.9) (2004.38,12.3) (2004.44,11.2) (2004.51,10.0) (2004.58,11.7) (2004.64,11.2) (2004.71,10.6) (2004.77,11.7) (2004.84,12.6) (2004.90,10.6) (2004.97,10.6) (2005.03,11.2) (2005.10,11.7) (2005.17,10.6) (2005.23,11.2) (2005.30,12.3) (2005.36,13.5) (2005.43,12.3) (2005.49,10.6) (2005.56,10.0) (2005.63,9.4) (2005.69,10.6) (2005.76,10.0) (2005.82,13.5) (2005.89,12.3) (2005.95,9.4) (2006.02,10.0) (2006.08,10.6) (2006.15,9.4) (2006.22,10.0) (2006.28,10.3) (2006.35,11.2) (2006.41,14.1) (2006.48,14.6) (2006.54,15.8) (2006.61,13.5) (2006.68,11.2) (2006.74,11.7) (2006.81,10.6) (2006.87,9.4) (2006.94,8.8) (2007.00,7.7) (2007.07,7.1) (2007.13,8.8) (2007.20,15.2) (2007.27,14.6) (2007.33,12.9) (2007.40,11.7) (2007.46,13.5) (2007.53,14.6) (2007.59,19.3) (2007.66,21.0) (2007.72,19.9) (2007.79,17.0) (2007.86,20.5) (2007.92,22.2) (2007.99,21.0) (2008.05,20.5) (2008.12,22.2) (2008.18,22.8) (2008.25,26.6) (2008.32,22.8) (2008.38,18.1) (2008.45,19.3) (2008.51,20.5) (2008.58,22.8) (2008.64,22.8) (2008.70,28.6) (2008.75,43.1) (2008.80,57.6) (2008.85,65.2) (2008.91,63.5) (2008.96,46.0) (2009.01,42.5) (2009.06,40.2) (2009.12,39.6) (2009.17,43.1) (2009.22,44.9) (2009.27,41.4) (2009.33,37.3) (2009.38,31.5) (2009.43,27.4) (2009.48,24.5) (2009.54,23.4) (2009.59,19.9) (2009.64,18.1) (2009.69,17.5) (2009.75,18.7) (2009.80,18.7) (2009.85,17.0) (2009.90,14.1) (2009.96,12.9) (2010.01,14.6) (2010.06,14.6) (2010.11,15.8) (2010.17,14.6) (2010.22,11.7) (2010.27,12.3) (2010.32,15.8) (2010.38,19.3) (2010.44,22.2) (2010.51,25.4) (2010.57,22.8) (2010.64,21.6) (2010.70,18.1) (2010.77,15.8) (2010.84,14.6) (2010.90,15.8) (2010.97,14.6) (2011.03,11.2) (2011.10,12.3) (2011.16,11.7) (2011.23,14.1) (2011.29,11.2) (2011.36,11.7) (2011.43,12.9) (2011.49,14.6) (2011.56,15.8) (2011.62,20.5) (2011.66,28.6) (2011.73,29.2) (2011.79,29.8) (2011.86,29.5) (2011.92,26.3) (2011.99,23.9) (2012.06,19.3) (2012.12,15.8) (2012.19,12.9) (2012.25,13.5) (2012.32,12.9) (2012.38,12.3) (2012.45,15.8) (2012.52,14.6) (2012.58,15.2) (2012.65,11.7) (2012.71,11.2) (2012.78,11.7) (2012.84,12.9) (2012.91,11.7) (2012.97,13.2) (2013.04,11.2) (2013.11,12.9) (2013.17,11.2) (2013.24,12.3) (2013.30,10.6) (2013.37,10.0) (2013.43,11.7) (2013.50,14.1) (2013.57,12.3) (2013.63,10.0) (2013.70,10.0) (2013.76,11.2) (2013.83,12.9) (2013.89,10.6) (2013.96,11.2) (2014.02,11.7) (2014.09,10.6) (2014.16,11.7) (2014.22,11.7) (2014.29,11.2) (2014.35,10.0) (2014.42,8.8) (2014.48,8.3) (2014.55,9.4) (2014.62,8.3) (2014.68,8.8) (2014.75,10.6) (2014.81,12.6)};
\addlegendentry{1 month}
\addplot[s2] coordinates {(1997.02,14) (1997.19,12.5) (1997.32,15) (1997.45,17) (1997.58,18.5) (1997.71,19.5) (1997.84,21) (1997.93,24) (1998.04,23.5) (1998.17,23) (1998.28,22.5) (1998.37,20) (1998.46,17) (1998.56,16.5) (1998.63,18) (1998.70,22) (1998.83,25.5) (1998.96,26.5) (1999.09,27) (1999.17,28) (1999.24,25.5) (1999.35,23) (1999.48,21) (1999.61,20) (1999.72,19.5) (1999.81,20) (1999.94,20.5) (2000.07,21) (2000.20,22.5) (2000.34,26) (2000.43,25.5) (2000.53,24.5) (2000.66,23.5) (2000.76,22) (2000.86,22) (2000.95,23) (2001.06,24.5) (2001.16,27.5) (2001.26,28.5) (2001.35,30) (2001.43,28) (2001.52,26) (2001.58,24) (2001.71,22.5) (2001.85,23.5) (2001.95,22.5) (2002.04,21) (2002.17,20.5) (2002.27,18.5) (2002.37,17.5) (2002.45,18) (2002.57,20) (2002.70,23) (2002.79,26) (2002.87,29.5) (2002.96,30.5) (2003.05,27.5) (2003.13,26) (2003.22,24.5) (2003.35,22.5) (2003.49,20) (2003.58,20.5) (2003.68,19) (2003.79,16) (2003.88,14) (2003.99,13) (2004.08,12.5) (2004.21,12) (2004.34,12) (2004.47,11.5) (2004.60,11) (2004.73,11) (2004.86,11.5) (2005.00,11) (2005.13,11.5) (2005.26,11) (2005.39,11) (2005.52,11) (2005.65,11.5) (2005.78,11.5) (2005.91,11.5) (2006.04,11.5) (2006.18,11.3) (2006.31,11) (2006.39,10.5) (2006.50,12.5) (2006.64,13.5) (2006.77,13) (2006.90,13) (2006.99,12) (2007.10,10.5) (2007.20,10.5) (2007.29,12) (2007.38,12.5) (2007.49,13.5) (2007.59,16) (2007.69,19) (2007.78,19.5) (2007.88,21.5) (2008.01,22) (2008.15,22.5) (2008.25,25) (2008.34,23) (2008.43,22) (2008.54,21.5) (2008.62,22) (2008.70,22.5) (2008.78,24) (2008.87,26) (2008.93,35) (2009.00,45) (2009.07,52) (2009.16,58.5) (2009.22,57) (2009.28,50) (2009.33,42) (2009.39,35) (2009.46,31) (2009.54,30) (2009.62,30) (2009.70,31) (2009.75,27) (2009.83,22) (2009.92,18) (2010.01,16) (2010.11,15.5) (2010.22,15) (2010.31,18) (2010.38,20) (2010.48,20.5) (2010.57,19.5) (2010.67,19) (2010.74,18.5) (2010.84,17.5) (2010.93,17.5) (2011.01,16.5) (2011.10,14.5) (2011.19,13.5) (2011.30,12.5) (2011.40,12) (2011.49,13) (2011.58,14.5) (2011.69,16) (2011.79,19) (2011.89,25.5) (2011.98,25) (2012.08,23.5) (2012.19,22) (2012.28,19) (2012.37,15) (2012.45,14) (2012.54,13.5) (2012.63,12.5) (2012.74,12.5) (2012.84,11.5) (2012.94,12) (2013.03,12) (2013.13,11.5) (2013.24,11) (2013.33,11) (2013.44,10.5) (2013.53,10.5) (2013.63,11) (2013.72,11.5) (2013.82,11.5) (2013.92,10.5) (2014.02,10) (2014.12,10.5) (2014.21,11) (2014.31,11) (2014.42,10.5) (2014.51,10) (2014.60,10) (2014.71,9.5) (2014.81,8.8)};
\addlegendentry{6 months}
\addplot[s3] coordinates {(1997.02,15) (1997.12,16) (1997.25,15) (1997.38,14) (1997.51,14.5) (1997.65,15) (1997.78,15.5) (1997.91,15.5) (1998.04,15) (1998.17,14.5) (1998.30,16) (1998.43,17) (1998.56,18.5) (1998.70,19.5) (1998.83,20.5) (1998.96,23) (1999.09,25) (1999.22,26) (1999.42,26.5) (1999.55,27) (1999.75,27) (1999.88,26.5) (2000.01,26) (2000.14,26) (2000.27,26) (2000.40,26.5) (2000.53,26.5) (2000.66,26) (2000.80,23) (2000.93,22.5) (2001.06,23) (2001.19,24) (2001.32,25.5) (2001.45,27) (2001.58,27) (2001.71,27.5) (2001.85,29) (2001.98,33.5) (2002.11,33.5) (2002.24,35.5) (2002.37,36) (2002.50,38) (2002.63,40) (2002.76,39) (2002.89,38) (2003.02,37) (2003.16,33) (2003.29,32.5) (2003.42,33.5) (2003.55,33) (2003.66,31) (2003.72,24) (2003.82,23) (2003.95,22.5) (2004.08,20.5) (2004.21,20) (2004.34,20) (2004.47,20.5) (2004.60,20) (2004.73,19.5) (2004.86,17.5) (2005.00,16) (2005.13,15) (2005.26,13.5) (2005.39,12) (2005.52,11.5) (2005.65,11) (2005.78,10.5) (2005.91,10.5) (2006.04,10) (2006.18,9.8) (2006.31,9.5) (2006.44,10) (2006.57,10) (2006.70,9.7) (2006.83,10.5) (2006.96,11) (2007.10,11) (2007.23,11) (2007.36,11.5) (2007.49,11.5) (2007.62,12) (2007.75,12) (2007.88,13) (2008.01,14.5) (2008.15,17) (2008.28,20.5) (2008.41,21) (2008.54,21) (2008.67,21) (2008.80,22.5) (2008.93,26) (2009.06,29.5) (2009.20,32) (2009.33,36) (2009.46,40) (2009.59,43) (2009.72,44) (2009.81,45.5) (2009.92,43) (2010.01,40) (2010.09,34) (2010.18,31.5) (2010.31,31.5) (2010.44,31) (2010.57,30) (2010.70,27.5) (2010.84,26) (2010.97,22.5) (2011.10,21.5) (2011.23,19) (2011.36,17) (2011.49,16.5) (2011.62,16) (2011.75,19.5) (2011.89,21) (2012.02,21) (2012.15,21) (2012.28,20.5) (2012.41,20.5) (2012.54,20) (2012.67,19) (2012.81,18.5) (2012.94,17) (2013.07,16.5) (2013.20,15) (2013.33,16) (2013.46,16.5) (2013.59,16) (2013.72,15) (2013.86,13) (2013.99,12) (2014.12,11.5) (2014.25,11) (2014.38,11) (2014.51,10.5) (2014.64,10) (2014.78,9.8)};
\addlegendentry{24 months}
\end{axis}

% ---------------- Panel D ----------------
\begin{axis}[panel, skewax, ylab=-0.098, at={(635.4pt,88.5pt)}, anchor=south west,
  xticklabels={98,00,02,04,06,08,10,12,14},
  title={D. 90\% minus 110\% expected volatility skew},
  xlabel={Year},
  ylabel={Expected volatility skew (pp)}]
\addplot[s1] coordinates {(1997.02,9.4) (1997.09,6.9) (1997.15,5.1) (1997.22,4.4) (1997.28,2.9) (1997.33,4.4) (1997.39,0.4) (1997.44,3.6) (1997.49,2.9) (1997.56,4.4) (1997.62,5.8) (1997.69,6.9) (1997.75,7.6) (1997.82,10.2) (1997.88,22.9) (1997.95,16.7) (1998.01,13.1) (1998.07,10.2) (1998.13,13.8) (1998.20,12.0) (1998.25,14.5) (1998.30,11.6) (1998.37,10.2) (1998.43,8.0) (1998.50,6.5) (1998.56,8.0) (1998.63,10.9) (1998.69,28.5) (1998.74,8.7) (1998.80,12.4) (1998.85,16.0) (1998.90,14.5) (1998.95,10.9) (1999.02,8.0) (1999.08,6.5) (1999.15,7.2) (1999.21,6.5) (1999.28,5.8) (1999.34,7.2) (1999.41,5.1) (1999.48,4.4) (1999.54,12.4) (1999.59,8.0) (1999.65,9.4) (1999.71,2.9) (1999.78,2.2) (1999.84,8.7) (1999.91,6.5) (1999.97,5.8) (2000.04,10.2) (2000.10,9.1) (2000.17,4.7) (2000.23,-0.4) (2000.30,8.7) (2000.35,16.7) (2000.40,13.8) (2000.45,11.6) (2000.52,7.6) (2000.58,9.1) (2000.65,6.5) (2000.72,8.0) (2000.78,4.7) (2000.85,10.2) (2000.91,11.6) (2000.98,6.5) (2001.04,5.1) (2001.11,10.2) (2001.17,8.0) (2001.24,4.4) (2001.30,11.6) (2001.37,12.4) (2001.43,7.2) (2001.50,1.4) (2001.56,3.6) (2001.63,4.0) (2001.70,6.5) (2001.76,10.9) (2001.83,8.7) (2001.89,10.9) (2001.96,5.4) (2002.02,2.9) (2002.09,4.4) (2002.15,5.8) (2002.22,5.1) (2002.28,3.6) (2002.35,2.9) (2002.41,2.2) (2002.48,-0.4) (2002.54,5.1) (2002.61,9.1) (2002.67,5.8) (2002.74,-0.4) (2002.80,4.4) (2002.87,5.1) (2002.93,3.6) (2003.00,5.8) (2003.07,0.7) (2003.13,-0.7) (2003.20,2.9) (2003.25,-4.0) (2003.30,-1.5) (2003.35,0.7) (2003.42,2.9) (2003.48,4.4) (2003.55,2.9) (2003.61,0.7) (2003.68,2.2) (2003.74,3.6) (2003.81,3.6) (2003.87,2.9) (2003.94,4.4) (2004.00,3.3) (2004.07,1.4) (2004.14,2.2) (2004.20,3.6) (2004.27,8.0) (2004.33,6.5) (2004.40,4.4) (2004.46,5.8) (2004.53,3.6) (2004.59,1.8) (2004.66,2.5) (2004.72,0.7) (2004.79,1.8) (2004.85,1.1) (2004.92,2.2) (2004.98,2.9) (2005.05,1.4) (2005.11,-2.6) (2005.18,-0.7) (2005.24,0.4) (2005.31,-1.1) (2005.38,2.9) (2005.44,6.9) (2005.51,2.9) (2005.57,4.7) (2005.64,1.8) (2005.70,1.1) (2005.77,2.9) (2005.83,1.4) (2005.90,6.5) (2005.96,7.2) (2006.03,5.8) (2006.09,5.1) (2006.16,5.8) (2006.22,4.4) (2006.29,3.6) (2006.35,6.5) (2006.42,4.4) (2006.47,-2.2) (2006.53,1.4) (2006.59,2.9) (2006.66,4.0) (2006.72,4.4) (2006.79,2.9) (2006.85,4.4) (2006.92,3.6) (2006.98,4.0) (2007.05,2.9) (2007.11,0.7) (2007.18,11.6) (2007.24,6.5) (2007.31,7.6) (2007.37,6.5) (2007.44,8.0) (2007.50,7.2) (2007.57,14.2) (2007.63,8.7) (2007.70,6.5) (2007.77,11.6) (2007.83,8.7) (2007.90,5.8) (2007.96,2.9) (2008.03,5.1) (2008.09,1.8) (2008.16,1.1) (2008.22,4.0) (2008.29,6.5) (2008.35,5.4) (2008.42,4.4) (2008.48,-2.6) (2008.55,2.9) (2008.61,-0.4) (2008.68,1.1) (2008.73,10.2) (2008.77,18.5) (2008.82,12.4) (2008.87,7.2) (2008.93,13.1) (2008.98,6.5) (2009.03,10.9) (2009.08,2.9) (2009.14,8.0) (2009.20,3.6) (2009.27,5.8) (2009.33,8.0) (2009.40,4.4) (2009.46,5.8) (2009.53,2.9) (2009.59,6.5) (2009.66,5.1) (2009.72,6.5) (2009.79,8.0) (2009.85,6.5) (2009.92,8.7) (2009.98,6.5) (2010.05,4.4) (2010.12,5.8) (2010.18,8.0) (2010.25,5.8) (2010.31,7.2) (2010.38,15.6) (2010.43,17.5) (2010.48,10.2) (2010.53,6.5) (2010.60,9.4) (2010.66,6.5) (2010.73,8.7) (2010.79,5.8) (2010.86,7.2) (2010.92,5.1) (2010.99,6.5) (2011.05,4.4) (2011.12,5.8) (2011.18,3.6) (2011.25,8.0) (2011.32,8.7) (2011.38,5.8) (2011.45,4.4) (2011.51,-1.1) (2011.56,13.1) (2011.60,25.1) (2011.64,12.4) (2011.70,9.4) (2011.75,7.2) (2011.81,3.6) (2011.88,6.5) (2011.94,1.4) (2012.01,8.0) (2012.07,6.5) (2012.14,7.2) (2012.20,5.1) (2012.27,2.2) (2012.33,4.4) (2012.40,2.9) (2012.47,1.4) (2012.53,2.9) (2012.60,4.4) (2012.66,2.2) (2012.73,4.7) (2012.79,0.7) (2012.86,2.2) (2012.92,-0.7) (2012.99,3.6) (2013.05,6.5) (2013.12,4.4) (2013.18,5.8) (2013.25,3.6) (2013.31,5.8) (2013.36,0.7) (2013.42,5.4) (2013.47,6.5) (2013.53,13.4) (2013.60,12.4) (2013.66,8.3) (2013.73,8.3) (2013.79,8.7) (2013.86,11.6) (2013.93,10.9) (2013.99,8.3) (2014.06,9.4) (2014.12,12.4) (2014.17,13.1) (2014.23,11.6) (2014.29,10.2) (2014.33,4.4) (2014.38,11.6) (2014.45,9.4) (2014.51,7.2) (2014.58,9.4) (2014.64,8.7) (2014.71,8.0) (2014.77,9.4) (2014.83,11.6)};
\addlegendentry{1 month}
\addplot[s2] coordinates {(1997.02,9) (1997.07,7) (1997.13,6) (1997.19,5) (1997.26,3) (1997.33,1) (1997.41,2) (1997.49,3.5) (1997.57,5) (1997.65,6) (1997.75,8) (1997.80,10) (1997.86,3) (1997.91,-1) (1997.96,0) (1998.01,6) (1998.09,7) (1998.17,9) (1998.25,10.5) (1998.33,10.5) (1998.41,11) (1998.48,11) (1998.54,17) (1998.59,12) (1998.64,4) (1998.69,10) (1998.74,15) (1998.80,15) (1998.87,13) (1998.95,12) (1999.03,11) (1999.11,10.5) (1999.19,11) (1999.27,11.5) (1999.32,9) (1999.37,6) (1999.45,5) (1999.50,4.5) (1999.58,3.8) (1999.66,4.5) (1999.74,4.5) (1999.81,4.8) (1999.89,5.5) (1999.97,6.5) (2000.05,5) (2000.13,4.5) (2000.21,3) (2000.26,2) (2000.31,0.8) (2000.36,2) (2000.41,5) (2000.49,7) (2000.57,8.5) (2000.65,9.5) (2000.73,7) (2000.81,6.5) (2000.88,8) (2000.94,10) (2000.99,12.5) (2001.07,13) (2001.15,12.5) (2001.22,10) (2001.28,6) (2001.33,3.5) (2001.41,4) (2001.48,5.5) (2001.56,8) (2001.64,6) (2001.72,5.5) (2001.80,5) (2001.88,6) (2001.96,5) (2002.06,4) (2002.16,3.8) (2002.24,4.5) (2002.32,4.5) (2002.40,3.8) (2002.48,5) (2002.56,5.5) (2002.63,6.5) (2002.71,7.5) (2002.79,8.5) (2002.87,8) (2002.95,4) (2003.00,2.5) (2003.08,1.2) (2003.16,0.8) (2003.21,1.5) (2003.29,2) (2003.36,1.5) (2003.44,3) (2003.52,3.5) (2003.60,3.8) (2003.68,3) (2003.76,3.5) (2003.84,2.5) (2003.91,2) (2003.99,2.5) (2004.07,2) (2004.15,1.5) (2004.23,1.5) (2004.31,0.5) (2004.38,0) (2004.46,-0.3) (2004.54,0.8) (2004.62,0.5) (2004.70,0.8) (2004.78,0.5) (2004.85,1.5) (2004.93,1.8) (2005.01,2) (2005.09,2.2) (2005.17,2) (2005.25,2.5) (2005.32,2) (2005.40,2.5) (2005.48,3) (2005.56,2.5) (2005.64,2.8) (2005.72,3.5) (2005.79,4) (2005.87,2.8) (2005.95,3) (2006.03,3.5) (2006.11,4) (2006.19,4.5) (2006.27,4.5) (2006.34,3.8) (2006.42,3) (2006.50,3.5) (2006.58,4) (2006.66,4.5) (2006.73,4.5) (2006.81,3.8) (2006.89,4.5) (2006.97,7.5) (2007.05,8) (2007.13,4) (2007.20,2) (2007.28,1.5) (2007.36,3) (2007.44,4) (2007.52,3.5) (2007.60,3.5) (2007.67,4) (2007.75,5) (2007.83,4) (2007.91,6) (2007.99,3.5) (2008.06,4.5) (2008.14,3) (2008.22,4) (2008.30,5) (2008.38,4.5) (2008.46,3) (2008.53,2.5) (2008.61,2.5) (2008.68,3) (2008.74,8) (2008.81,11) (2008.87,13) (2008.94,14) (2009.00,13.5) (2009.06,11) (2009.11,8) (2009.16,5) (2009.21,0) (2009.27,-3.5) (2009.32,-4.5) (2009.37,-2) (2009.42,2) (2009.47,4) (2009.53,2.5) (2009.58,1) (2009.63,3.5) (2009.68,5) (2009.74,3) (2009.79,1.5) (2009.87,0.5) (2009.95,0) (2010.02,-1) (2010.10,0.5) (2010.18,2) (2010.26,2.5) (2010.31,3) (2010.36,2) (2010.42,-1) (2010.47,1) (2010.52,2.5) (2010.57,2) (2010.65,2.8) (2010.73,1) (2010.81,-1.5) (2010.89,1) (2010.96,3.5) (2011.04,3) (2011.12,2.5) (2011.20,0) (2011.28,0.5) (2011.36,1) (2011.43,-0.5) (2011.51,-1) (2011.56,5) (2011.62,11) (2011.67,13.5) (2011.72,14) (2011.80,13) (2011.88,10) (2011.93,5) (2011.98,2) (2012.03,0.5) (2012.09,2) (2012.14,3.5) (2012.22,5.5) (2012.30,6) (2012.37,5.5) (2012.45,4) (2012.53,2) (2012.61,1) (2012.69,1.5) (2012.76,2) (2012.84,3.5) (2012.92,2.5) (2013.00,2) (2013.08,2.5) (2013.16,1.5) (2013.24,1) (2013.31,-0.5) (2013.39,-1) (2013.47,-2) (2013.55,-1.5) (2013.63,-0.5) (2013.71,1) (2013.78,2) (2013.86,2.5) (2013.94,1.5) (2013.99,1) (2014.07,0) (2014.15,0) (2014.23,-0.5) (2014.31,0) (2014.38,1.5) (2014.46,2.5) (2014.54,3.5) (2014.62,2.5) (2014.70,2) (2014.75,2.3) (2014.83,1.2)};
\addlegendentry{6 months}
\addplot[s3] coordinates {(1998.00,13) (1998.07,12) (1998.13,11.5) (1998.20,12.5) (1998.27,11) (1998.30,nan) (1999.48,19) (1999.54,14.5) (1999.61,15) (1999.67,15) (1999.74,15) (1999.80,16) (1999.87,17) (1999.93,17.5) (2000.00,17.5) (2000.06,17) (2000.13,16.5) (2000.19,15) (2000.26,16) (2000.32,15.5) (2000.39,16) (2000.45,15.5) (2000.52,13.5) (2000.59,15) (2000.65,18) (2000.70,nan) (2000.85,7) (2000.98,6.5) (2001.11,8) (2001.24,8.5) (2001.37,8.5) (2001.50,8) (2001.63,7.5) (2001.70,7.5) (2001.76,8.5) (2001.85,10) (2001.96,11.5) (2002.06,12) (2002.15,12.5) (2002.22,14) (2002.28,15.5) (2002.35,16) (2002.41,17.5) (2002.48,18.5) (2002.54,19) (2002.61,19.5) (2002.67,20) (2002.74,19.5) (2002.80,19) (2002.87,19.5) (2002.93,18.5) (2003.00,18) (2003.07,18) (2003.13,16) (2003.20,14.5) (2003.26,14.5) (2003.33,15.5) (2003.39,15.5) (2003.46,14) (2003.52,13) (2003.59,11) (2003.65,8) (2003.72,5) (2003.78,3) (2003.85,2.5) (2003.91,1.5) (2003.98,1) (2004.04,2) (2004.11,3) (2004.17,5) (2004.24,6.5) (2004.31,7) (2004.37,6.8) (2004.44,6.5) (2004.50,6) (2004.57,5) (2004.63,3.5) (2004.70,2.5) (2004.76,2) (2004.83,2) (2004.89,1.5) (2004.96,1.5) (2005.02,1) (2005.09,0) (2005.15,-1) (2005.22,-1.3) (2005.28,-1.2) (2005.35,-1) (2005.48,-1) (2005.61,-0.5) (2005.74,-0.3) (2005.87,-0.5) (2006.00,0) (2006.13,0) (2006.26,-0.2) (2006.39,0.3) (2006.46,1) (2006.53,1.2) (2006.59,1.5) (2006.66,1.2) (2006.72,0.5) (2006.79,1) (2006.85,1.5) (2006.92,2) (2006.98,2.5) (2007.05,3.5) (2007.11,4) (2007.18,4) (2007.24,4) (2007.31,4.5) (2007.37,4.5) (2007.44,4.8) (2007.50,5) (2007.57,5.5) (2007.63,6) (2007.70,7) (2007.77,7.5) (2007.83,8) (2007.90,8.5) (2007.96,8.5) (2008.03,7.5) (2008.09,6.5) (2008.16,5.5) (2008.22,5) (2008.29,4.5) (2008.35,4.5) (2008.42,5) (2008.48,5.5) (2008.55,6) (2008.61,7) (2008.68,8.5) (2008.74,10.5) (2008.81,12) (2008.87,14.5) (2008.94,15) (2009.00,15.5) (2009.07,16) (2009.14,18) (2009.20,19.5) (2009.27,21) (2009.33,22.5) (2009.40,24) (2009.46,26) (2009.53,27) (2009.59,26.5) (2009.66,25.5) (2009.72,26) (2009.79,25.5) (2009.85,22) (2009.92,17.5) (2009.98,13) (2010.05,5) (2010.12,3) (2010.18,-2) (2010.25,-4.5) (2010.31,-4.5) (2010.38,-3.5) (2010.44,-1.5) (2010.51,0) (2010.57,0.5) (2010.64,-0.5) (2010.70,-0.5) (2010.77,-1) (2010.83,-1.5) (2010.90,-2) (2010.96,-3) (2011.03,-4.5) (2011.09,-6) (2011.13,-8.5) (2011.17,-10) (2011.22,-10.5) (2011.29,-10) (2011.35,-9) (2011.42,-8.5) (2011.49,-8) (2011.55,-7.5) (2011.62,-7) (2011.67,-8.5) (2011.72,-8.5) (2011.77,-8) (2011.83,-7) (2011.88,-6) (2011.94,-5) (2012.01,-3) (2012.07,-2) (2012.14,-0.5) (2012.20,0.5) (2012.27,1) (2012.33,1.5) (2012.40,-1) (2012.47,-1.5) (2012.53,-2) (2012.60,-2.3) (2012.66,-1.5) (2012.73,-1) (2012.79,-0.5) (2012.86,0.5) (2012.92,1) (2012.99,1.5) (2013.05,2) (2013.12,2) (2013.18,2) (2013.25,1.8) (2013.31,1.5) (2013.38,2) (2013.44,1) (2013.51,0) (2013.57,-1.5) (2013.64,-2.5) (2013.71,-4) (2013.77,-5) (2013.84,-5.5) (2013.90,-6) (2013.97,-6) (2014.03,-6.2) (2014.10,-5.5) (2014.16,-5) (2014.23,-5.5) (2014.29,-6) (2014.36,-7) (2014.42,-7.5) (2014.49,-7.8) (2014.55,-7.5) (2014.62,-7.5) (2014.68,-7.2) (2014.75,-7.2) (2014.83,-7.2)};
\addlegendentry{24 months}
\end{axis}
\end{tikzpicture}
\end{document}
